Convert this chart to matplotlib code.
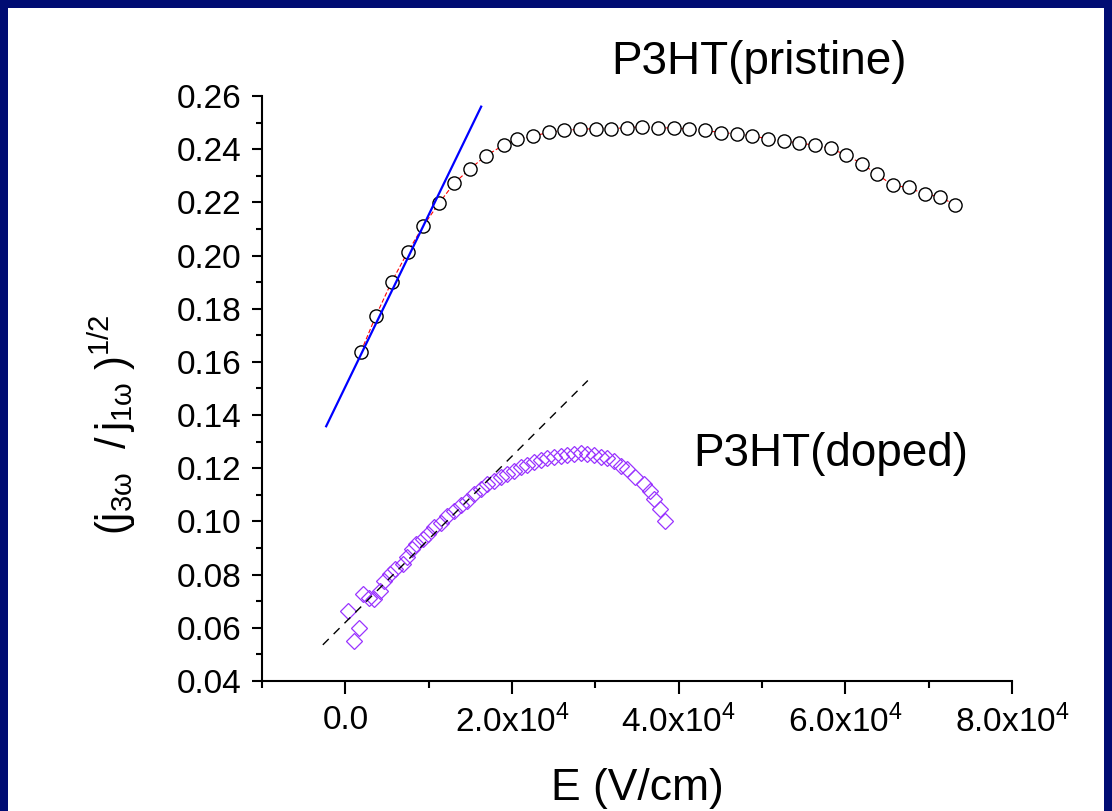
import matplotlib
matplotlib.use('Agg')
import matplotlib.pyplot as plt
from matplotlib.patches import Rectangle
from matplotlib.ticker import MultipleLocator, FixedLocator, FixedFormatter

plt.rcParams['font.family'] = ['Liberation Sans', 'DejaVu Sans']
plt.rcParams['mathtext.fontset'] = 'custom'
plt.rcParams['mathtext.rm'] = 'Liberation Sans'
plt.rcParams['mathtext.it'] = 'Liberation Sans:italic'
plt.rcParams['mathtext.bf'] = 'Liberation Sans:bold'

# P3HT pristine: E (V/cm) and (j3w/j1w)^1/2
pristine_E = [1880, 3680, 5540, 7460, 9340, 11220, 13090, 14930, 16850, 19080,
              20560, 22480, 24400, 26260, 28140, 30060, 31890, 33810, 35650, 37520,
              39440, 41280, 43200, 45070, 46950, 48830, 50740, 52610, 54460, 56370,
              58240, 60080, 61950, 63830, 65710, 67580, 69500, 71340, 73210]
pristine_ratio = [0.1639, 0.1774, 0.1900, 0.2012, 0.2111, 0.2196, 0.2273, 0.2325, 0.2375, 0.2417,
                  0.2437, 0.2449, 0.2463, 0.2471, 0.2475, 0.2477, 0.2477, 0.2481, 0.2484, 0.2480,
                  0.2480, 0.2475, 0.2471, 0.2462, 0.2458, 0.2450, 0.2439, 0.2430, 0.2424, 0.2414,
                  0.2403, 0.2378, 0.2346, 0.2305, 0.2264, 0.2256, 0.2231, 0.2222, 0.2189]

# P3HT doped
doped_E = [280, 990, 1590, 2160, 2790, 3470, 4160, 4590, 5350, 5990,
           6860, 7340, 7990, 8470, 9260, 9860, 10660, 11460, 12250, 13050,
           13860, 14650, 15450, 16250, 17040, 17840, 18650, 19440, 20240, 21040,
           21830, 22630, 23440, 24230, 25030, 25830, 26620, 27430, 28230, 29020,
           29820, 30620, 31410, 32220, 33020, 33810, 34810, 35810, 36610, 37010,
           37810, 38410]
doped_ratio = [0.0664, 0.0551, 0.0601, 0.0727, 0.0712, 0.0708, 0.0739, 0.0777, 0.0802, 0.0821,
               0.0840, 0.0867, 0.0896, 0.0917, 0.0934, 0.0953, 0.0978, 0.0996, 0.1022, 0.1040,
               0.1063, 0.1078, 0.1103, 0.1122, 0.1141, 0.1153, 0.1169, 0.1179, 0.1191, 0.1204,
               0.1214, 0.1222, 0.1231, 0.1239, 0.1244, 0.1248, 0.1251, 0.1254, 0.1256, 0.1254,
               0.1250, 0.1244, 0.1239, 0.1229, 0.1210, 0.1197, 0.1166, 0.1141, 0.1116, 0.1084,
               0.1047, 0.1000]

# linear fits (end points)
pristine_fit_E = [-2300, 16300]
pristine_fit_ratio = [0.1358, 0.2560]
doped_fit_E = [-2700, 29100]
doped_fit_ratio = [0.0536, 0.1530]

x_ticks = [0, 20000, 40000, 60000, 80000]
x_tick_labels = ['0.0', '2.0x10$^{4}$', '4.0x10$^{4}$', '6.0x10$^{4}$', '8.0x10$^{4}$']

W, H = 1112, 811
fig = plt.figure(figsize=(W / 100, H / 100), dpi=100)
fig.patch.set_facecolor('#000C73')
fig.add_artist(Rectangle((8 / W, 0), 1096 / W, 803 / H, transform=fig.transFigure,
                         facecolor='white', edgecolor='none', zorder=-10))

ax = fig.add_axes([262 / W, 1 - 681 / H, 750 / W, 585 / H])
ax.patch.set_visible(False)

ax.plot(pristine_E, pristine_ratio, color='red', lw=0.8, dashes=(4, 2), zorder=2)
ax.plot(pristine_E, pristine_ratio, ls='none', marker='o', ms=9.5, mfc='white',
        mec='black', mew=1.0, zorder=3)
ax.plot(pristine_fit_E, pristine_fit_ratio, color='#0000FF', lw=1.6, zorder=4)

ax.plot(doped_E, doped_ratio, ls='none', marker='D', ms=8.5, mfc='none',
        mec='#9933FF', mew=0.9, zorder=3)
ax.plot(doped_fit_E, doped_fit_ratio, color='black', lw=1.0, dashes=(6, 5), zorder=4)

ax.set_xlim(-10000, 80000)
ax.set_ylim(0.04, 0.26)

ax.spines['top'].set_visible(False)
ax.spines['right'].set_visible(False)
for s in ['left', 'bottom']:
    ax.spines[s].set_linewidth(1.5)

ax.xaxis.set_major_locator(FixedLocator(x_ticks))
ax.xaxis.set_major_formatter(FixedFormatter(x_tick_labels))
ax.xaxis.set_minor_locator(MultipleLocator(10000))
ax.yaxis.set_major_locator(MultipleLocator(0.02))
ax.yaxis.set_minor_locator(MultipleLocator(0.01))
ax.yaxis.set_major_formatter(plt.FormatStrFormatter('%.2f'))

ax.tick_params(axis='both', which='both', direction='out', width=1.5, color='black')
ax.tick_params(axis='y', which='major', length=7, pad=8, labelsize=24)
ax.tick_params(axis='y', which='minor', length=4)
ax.tick_params(axis='x', which='major', length=9, pad=8, labelsize=24)
ax.tick_params(axis='x', which='minor', length=5)

ax.text(49600, 0.2728, 'P3HT(pristine)', fontsize=33, ha='center', va='center', clip_on=False)
ax.text(58300, 0.1255, 'P3HT(doped)', fontsize=33, ha='center', va='center', clip_on=False)

fig.text(637 / W, 1 - 800 / H, 'E (V/cm)', fontsize=32, ha='center', va='baseline')
fig.text(112 / W, 1 - 425 / H,
         r'$(\mathrm{j}_{\mathrm{3ω}}\ \ /\,\mathrm{j}_{\mathrm{1ω}}\ )^{\mathrm{1/2}}$',
         fontsize=30, rotation=90, ha='center', va='center')

fig.savefig('out.png', dpi=100, facecolor=fig.get_facecolor())
